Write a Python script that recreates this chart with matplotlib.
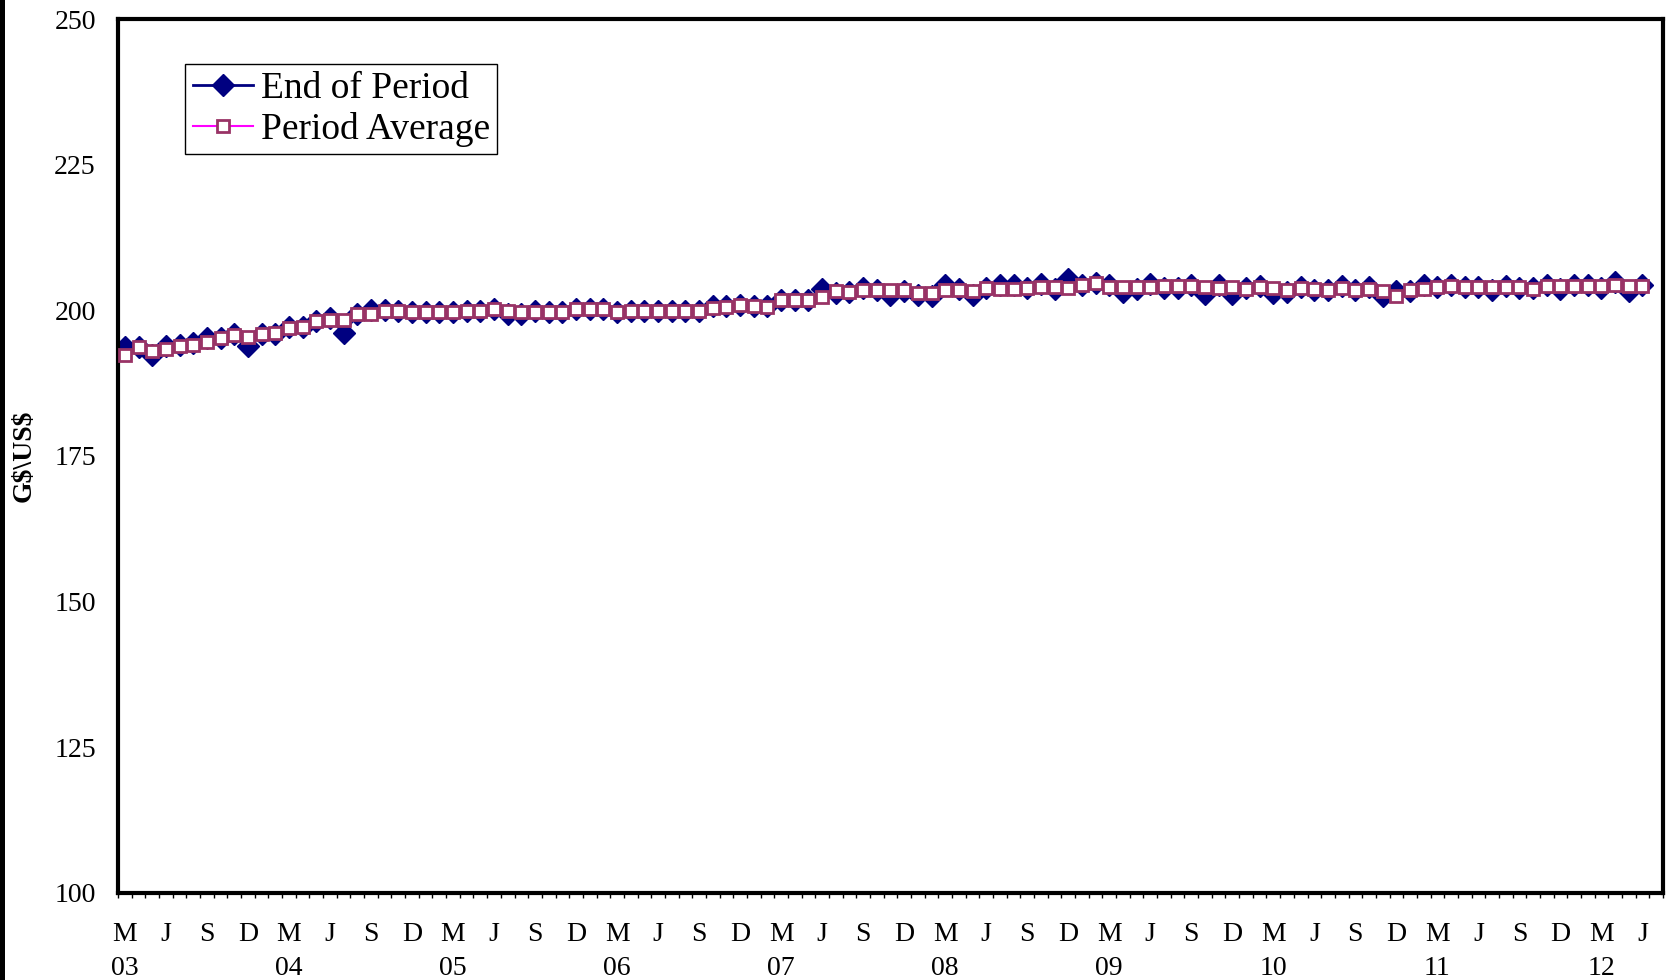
import matplotlib
matplotlib.use("Agg")
import matplotlib.pyplot as plt
from matplotlib.patches import Rectangle
from matplotlib.ticker import FixedLocator

plt.rcParams["font.family"] = ["Liberation Serif", "DejaVu Serif"]

# monthly, March 2003 .. June 2012
end_of_period = [
    193.7, 193.7, 192.3, 193.8, 194.0, 194.4, 195.2, 195.2, 196.0, 193.9,
    196.0, 196.0, 197.2, 197.2, 198.2, 198.7, 196.1, 199.3, 200.0, 200.0,
    199.9, 199.7, 199.7, 199.7, 199.7, 199.9, 199.9, 200.2, 199.4, 199.4,
    199.9, 199.7, 199.7, 200.2, 200.25, 200.25, 199.7, 199.9, 199.9, 199.9,
    199.9, 199.9, 199.9, 200.7, 200.7, 200.9, 200.7, 200.7, 201.7, 201.7,
    201.7, 203.6, 203.0, 203.2, 203.8, 203.5, 202.6, 203.4, 202.6, 202.4,
    204.3, 203.7, 202.7, 203.9, 204.3, 204.3, 203.9, 204.5, 203.6, 205.3,
    204.3, 204.7, 204.4, 203.2, 203.7, 204.5, 203.8, 203.9, 204.3, 202.8,
    204.3, 202.8, 203.9, 204.1, 202.9, 203.1, 204.0, 203.5, 203.5, 204.2,
    203.5, 204.0, 202.4, 203.4, 203.3, 204.4, 204.0, 204.4, 204.0, 204.0,
    203.5, 204.2, 203.9, 203.8, 204.4, 203.7, 204.4, 204.4, 203.8, 204.9,
    203.3, 204.3,
]
period_average = [
    192.33, 193.65, 193.07, 193.42, 193.87, 194.10, 194.62, 195.19, 195.82, 195.47,
    195.93, 196.10, 197.02, 197.19, 198.16, 198.34, 198.34, 199.31, 199.31, 199.94,
    199.94, 199.77, 199.77, 199.77, 199.77, 199.94, 199.94, 200.17, 199.88, 199.65,
    199.77, 199.77, 199.77, 200.17, 200.28, 200.28, 199.77, 199.94, 199.94, 199.94,
    199.94, 199.94, 199.94, 200.40, 200.62, 200.85, 200.74, 200.62, 201.71, 201.71,
    201.71, 202.22, 203.31, 203.14, 203.54, 203.54, 203.48, 203.48, 202.91, 203.02,
    203.48, 203.48, 203.37, 203.77, 203.71, 203.71, 203.83, 204.06, 204.06, 203.77,
    204.40, 204.63, 203.94, 203.94, 204.06, 203.94, 204.17, 204.17, 204.17, 203.94,
    203.77, 203.94, 203.60, 203.94, 203.75, 203.55, 203.79, 203.67, 203.55, 203.84,
    203.55, 203.67, 203.33, 202.40, 203.55, 203.67, 204.01, 204.13, 204.01, 204.01,
    204.01, 204.01, 204.01, 203.73, 204.24, 204.13, 204.13, 204.13, 204.13, 204.36,
    204.13, 204.24,
]
months = ["M", "J", "S", "D"]
years = ["03", "04", "05", "06", "07", "08", "09", "10", "11", "12"]

n = len(end_of_period)
x = list(range(n))

fig = plt.figure(figsize=(16.69, 9.8), dpi=100)
ax = fig.add_axes([0.0707, 0.0888, 0.9257, 0.8918])

ax.plot(x, end_of_period, color="#000080", lw=2, marker="D", ms=11,
        mfc="#000080", mec="#000080", label="End of Period", zorder=2)
ax.plot(x, period_average, color="#FF00FF", lw=1.5, marker="s", ms=8.5,
        mfc="white", mec="#993366", mew=2, label="Period Average", zorder=3)

ax.set_ylim(100, 250)
ax.set_yticks(range(100, 251, 25))
ax.set_xlim(-0.5, n + 0.5)

tick_pos = list(range(0, n, 3))
labels = []
for k, p in enumerate(tick_pos):
    m = months[k % 4]
    if m == "M":
        labels.append(m + "\n" + years[k // 4])
    else:
        labels.append(m)
ax.set_xticks(tick_pos)
ax.set_xticklabels(labels, linespacing=1.45)
ax.xaxis.set_minor_locator(FixedLocator([i - 0.5 for i in range(n + 2)]))

ax.tick_params(axis="x", which="major", length=0, pad=21, labelsize=20)
ax.tick_params(axis="x", which="minor", length=3.6, width=1, direction="out")
ax.tick_params(axis="y", length=0, pad=16, labelsize=20)

for s in ax.spines.values():
    s.set_linewidth(3)
    s.set_color("black")

ax.set_ylabel(r"G\$\US\$", fontsize=20, fontweight="bold")
ax.yaxis.set_label_coords(-0.0524, 0.5)

leg = ax.legend(loc="upper left", bbox_to_anchor=(0.0434, 0.9485),
                borderaxespad=0, fontsize=27, frameon=True, fancybox=False,
                framealpha=1, edgecolor="black", handlelength=1.6,
                handletextpad=0.22, borderpad=0.2, labelspacing=0.15)
leg.get_frame().set_linewidth(1)

# black strip at the left edge of the picture
fig.add_artist(Rectangle((0, 0), 5 / 1669, 1, transform=fig.transFigure,
                         color="black", lw=0))

fig.savefig("out.png", dpi=100)
